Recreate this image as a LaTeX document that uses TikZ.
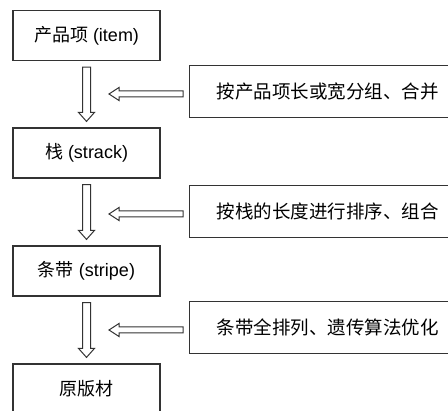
\documentclass[tikz,border=0pt]{standalone}
\usepackage{fontspec}
\setmainfont{Liberation Sans}
\newfontfamily\cjk{Noto Sans CJK SC}
\usetikzlibrary{calc}
\definecolor{linegray}{HTML}{333333}
\tikzset{
  leftbox/.style={draw=linegray, line width=1.2pt, minimum width=147pt, minimum height=50pt, inner sep=0pt, text=black, font=\fontsize{18}{20}\selectfont},
  rightbox/.style={draw=linegray, line width=1.2pt, minimum width=272pt, minimum height=52pt, inner sep=0pt, text=black, font=\fontsize{18.5}{20}\selectfont, anchor=west},
  hollow/.style={draw=linegray, line width=1pt, fill=white, line join=miter}
}
\newcommand{\downarr}[2]{%
  \draw[hollow] ($(#1.south)+(-4,6)$) -- ($(#2.north)+(-4,-15)$) -- ($(#2.north)+(-8,-15)$) -- ($(#2.north)+(0,-6)$) -- ($(#2.north)+(8,-15)$) -- ($(#2.north)+(4,-15)$) -- ($(#1.south)+(4,6)$) -- cycle;}
\newcommand{\leftarr}[3]{%
  \coordinate (t#3) at ($(#1.west)+(-6,2.5)$);
  \coordinate (x#3) at ($(#2.south)+(22.5,0)$);
  \draw[hollow] let \p1=(t#3), \p2=(x#3) in (\x1,\y1+3pt) -- (\x2+10pt,\y1+3pt) -- (\x2+10pt,\y1+6.5pt) -- (\x2,\y1) -- (\x2+10pt,\y1-6.5pt) -- (\x2+10pt,\y1-3pt) -- (\x1,\y1-3pt) -- cycle;}
\begin{document}
\begin{tikzpicture}[x=1pt,y=-1pt]
\useasboundingbox (0,0) rectangle (448,411);
\clip (0,0) rectangle (448,411);
\fill[white] (0,0) rectangle (448,411);
\node[leftbox] (item) at (86.5,35.5) {{\cjk 产品项} (item)};
\node[leftbox] (stack) at (86.5,153) {{\cjk 栈} (strack)};
\node[leftbox] (stripe) at (86.5,271) {{\cjk 条带} (stripe)};
\node[leftbox] (board) at (86.5,389) {\cjk 原版材};
\node[rightbox] (r1) at (189,91.5) {\hspace*{4pt}\cjk 按产品项长或宽分组、合并};
\node[rightbox] (r2) at (189,211.5) {\hspace*{4pt}\cjk 按栈的长度进行排序、组合};
\node[rightbox] (r3) at (189,327.5) {\hspace*{4pt}\cjk 条带全排列、遗传算法优化};
\downarr{item}{stack}
\downarr{stack}{stripe}
\downarr{stripe}{board}
\leftarr{r1}{item}{a}
\leftarr{r2}{stack}{b}
\leftarr{r3}{stripe}{c}
\end{tikzpicture}
\end{document}
